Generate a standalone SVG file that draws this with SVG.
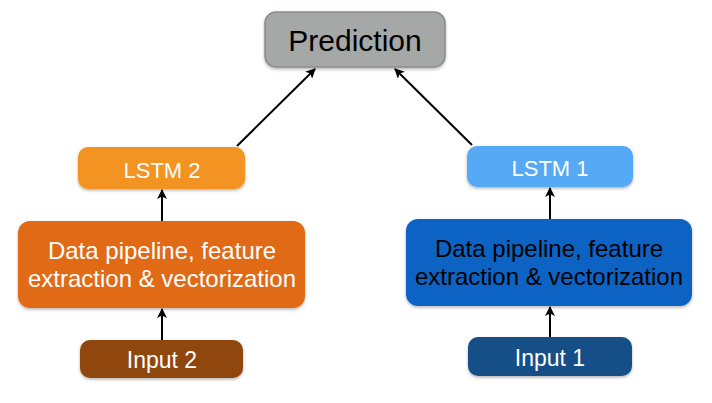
<svg xmlns="http://www.w3.org/2000/svg" width="712" height="403" viewBox="0 0 712 403">
<defs>
<marker id="ah" markerWidth="10" markerHeight="10" refX="9" refY="5" orient="auto" markerUnits="userSpaceOnUse">
<path d="M0,0 L10,5 L0,10 L2.5,5 Z" fill="#000"/>
</marker>
<filter id="sh" x="-10%" y="-20%" width="120%" height="150%">
<feDropShadow dx="0" dy="1.5" stdDeviation="1.5" flood-color="#000" flood-opacity="0.3"/>
</filter>
</defs>
<style>
text{font-family:"Liberation Sans",Arial,sans-serif;font-weight:normal;text-anchor:middle}
.box{filter:url(#sh)}
.w{fill:#fff}
.k{fill:#000}
.conn line{stroke:#000;stroke-width:2;marker-end:url(#ah)}
</style>
<rect width="712" height="403" fill="#fff"/>
<g id="prediction">
<rect class="box" x="265" y="12" width="180" height="55" rx="11" fill="#a5a8a6" stroke="#8a8c8b" stroke-width="1.5"/>
<text x="355" y="51" font-size="30" class="k">Prediction</text>
</g>
<g id="lstm2">
<rect class="box" x="78" y="147" width="167" height="42" rx="10" fill="#f39320"/>
<text x="162" y="178" font-size="22" class="w">LSTM 2</text>
</g>
<g id="pipeline2">
<rect class="box" x="18" y="221" width="287" height="87" rx="12" fill="#e06b12"/>
<text x="162" y="259" font-size="24" class="w">Data pipeline, feature</text>
<text x="162" y="287" font-size="24" class="w">extraction &amp; vectorization</text>
</g>
<g id="input2">
<rect class="box" x="80" y="340" width="163" height="38" rx="10" fill="#8f4709"/>
<text x="162" y="368" font-size="23" class="w">Input 2</text>
</g>
<g id="lstm1">
<rect class="box" x="467" y="146" width="166" height="41" rx="10" fill="#55a9f5"/>
<text x="550" y="176" font-size="22" class="w">LSTM 1</text>
</g>
<g id="pipeline1">
<rect class="box" x="406" y="219" width="286" height="87" rx="12" fill="#0a64c3"/>
<text x="549" y="257" font-size="24" class="k">Data pipeline, feature</text>
<text x="549" y="285" font-size="24" class="k">extraction &amp; vectorization</text>
</g>
<g id="input1">
<rect class="box" x="468" y="337" width="164" height="39" rx="10" fill="#174f87"/>
<text x="550" y="366" font-size="23" class="w">Input 1</text>
</g>
<g class="conn" id="connectors">
<line x1="162" y1="340" x2="162" y2="309"/>
<line x1="162" y1="221" x2="162" y2="190"/>
<line x1="550" y1="337" x2="550" y2="307"/>
<line x1="550" y1="219" x2="550" y2="188"/>
<line x1="237" y1="146" x2="315" y2="69"/>
<line x1="472" y1="145" x2="395" y2="69"/>
</g>
</svg>
